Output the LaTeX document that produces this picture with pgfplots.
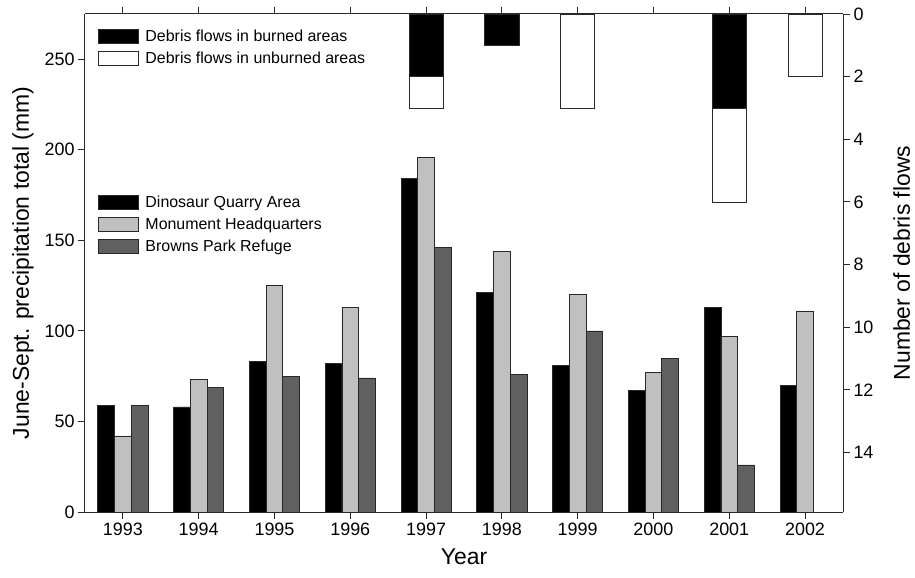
\documentclass[border=0pt]{standalone}
\usepackage{fontspec}
\setmainfont{Liberation Sans}
\usepackage{pgfplots}
\pgfplotsset{compat=1.18}
\definecolor{lgray}{RGB}{192,192,192}
\definecolor{dgray}{RGB}{96,96,96}
\definecolor{edge}{RGB}{40,40,40}
\begin{document}
\begin{tikzpicture}
\pgfplotsset{
  myleg/.style={legend image code/.code={\draw[##1, line width=0.8bp, bar shift=0pt] (0bp,-7bp) rectangle (40bp,7bp);\path[draw=none, fill=none] (0bp,0bp) -- (45bp,0bp);}},
  common/.style={
    scale only axis, width=758bp, height=498bp,
    xmin=1992.5, xmax=2002.5,
    axis line style={line width=1bp, edge},
    tick style={line width=1bp, edge},
    major tick length=7bp,
    tick align=outside,
    /pgf/number format/assume math mode=true,
    /pgf/number format/1000 sep={},
    tick label style={font=\fontsize{18}{21}\selectfont},
    label style={font=\fontsize{23}{27}\selectfont},
    legend style={draw=none, fill=none, font=\fontsize{16}{19}\selectfont, anchor=north west,
      cells={anchor=west}, row sep=5bp, inner sep=0pt},
  }
}
\begin{axis}[common, name=main,
  axis y line*=left,
  ymin=0, ymax=275,
  ytick={0,50,...,250},
  xtick={1993,...,2002},
  xtick pos=both, xticklabel pos=left,
  xlabel={Year},
  xlabel style={yshift=-7bp},
  ylabel={June-Sept. precipitation total (mm)},
  ylabel style={yshift=4bp},
  ybar, bar width=0.22,
  legend style={at={(0.017,0.64)}},
]
\addplot[fill=black, draw=edge, line width=0.8bp, bar shift=-0.22, myleg] coordinates {(1993,59)(1994,58)(1995,83)(1996,82)(1997,184)(1998,121)(1999,81)(2000,67)(2001,113)(2002,70)};
\addplot[fill=lgray, draw=edge, line width=0.8bp, bar shift=0, myleg] coordinates {(1993,42)(1994,73)(1995,125)(1996,113)(1997,196)(1998,144)(1999,120)(2000,77)(2001,97)(2002,111)};
\addplot[fill=dgray, draw=edge, line width=0.8bp, bar shift=0.22, myleg] coordinates {(1993,59)(1994,69)(1995,75)(1996,74)(1997,146)(1998,76)(1999,100)(2000,85)(2001,26)};
\legend{Dinosaur Quarry Area, Monument Headquarters, Browns Park Refuge}
\end{axis}
\begin{axis}[common,
  axis y line*=right, axis x line=none,
  y dir=reverse, ymin=0, ymax=15.9, ytick={0,2,...,14},
  ylabel={Number of debris flows},
  ylabel style={yshift=-13bp},
  ybar stacked, bar width=0.45,
  legend style={at={(0.017,0.972)}},
]
\addplot[fill=black, draw=edge, line width=0.8bp, myleg] coordinates {(1993,0)(1994,0)(1995,0)(1996,0)(1997,2)(1998,1)(1999,0)(2000,0)(2001,3)(2002,0)};
\addplot[fill=white, draw=edge, line width=0.8bp, myleg] coordinates {(1993,0)(1994,0)(1995,0)(1996,0)(1997,1)(1998,0)(1999,3)(2000,0)(2001,3)(2002,2)};
\legend{Debris flows in burned areas, Debris flows in unburned areas}
\end{axis}
\pgfresetboundingbox
\useasboundingbox ([shift={(-85bp,-66bp)}]main.south west) rectangle ([shift={(72bp,14bp)}]main.north east);
\end{tikzpicture}
\end{document}
